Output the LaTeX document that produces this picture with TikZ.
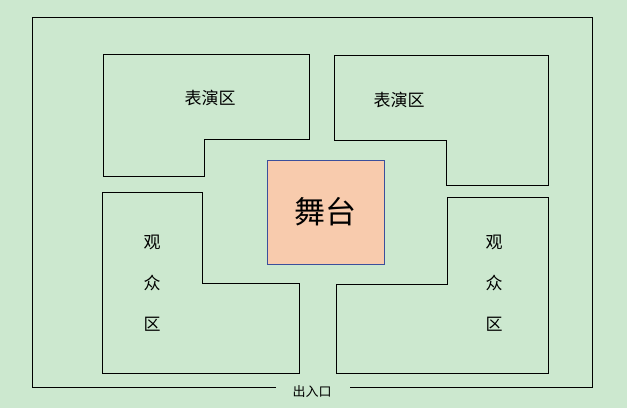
\documentclass[tikz,border=0pt]{standalone}
\usepackage{fontspec}
\newfontfamily\cjk{Noto Sans CJK SC}
\definecolor{bggreen}{HTML}{CCE8CF}
\definecolor{stagefill}{HTML}{F8CBAD}
\definecolor{stageline}{HTML}{3B4F9C}
\begin{document}
\begin{tikzpicture}[x=1pt,y=-1pt,
        zone/.style={draw=black,line width=1pt},
        label/.style={font=\cjk\fontsize{17}{17}\selectfont,inner sep=0pt},
        stage/.style={draw=stageline,fill=stagefill,line width=0.8pt,
            font=\cjk\fontsize{31}{31}\selectfont}]
        \fill[bggreen] (0,0) rectangle (627,408);
        \useasboundingbox (0,0) rectangle (627,408);

        % outer wall and entrance
        \coordinate (gl) at (276,387);
        \coordinate (gr) at (350,387);
        \draw[zone] (gl) -- (32,387) -- (32,17) -- (592,17) -- (592,387) -- (gr);
        \node[font=\cjk\fontsize{13}{13}\selectfont,inner sep=0pt] (gate) at (312,392) {出入口};

        % performance zones
        \draw[zone] (103,54) -- (309,54) -- (309,139) -- (204,139) -- (204,176) -- (103,176) -- cycle;
        \draw[zone] (334,55) -- (548,55) -- (548,185) -- (446,185) -- (446,140) -- (334,140) -- cycle;
        \node[label] (perfL) at (210,98) {表演区};
        \node[label] (perfR) at (399,100) {表演区};

        % audience zones
        \draw[zone] (102,192) -- (202,192) -- (202,283) -- (299,283) -- (299,373) -- (102,373) -- cycle;
        \draw[zone] (447,197) -- (548,197) -- (548,373) -- (336,373) -- (336,284) -- (447,284) -- cycle;
        \node[label,align=center] (audL) at (152,283) {观\\[24pt]众\\[24pt]区};
        \node[label,align=center] (audR) at (494,283) {观\\[24pt]众\\[24pt]区};

        % stage
        \node[stage,minimum width=117pt,minimum height=104pt] (stage) at (325.5,212) {舞台};
    \end{tikzpicture}
\end{document}
